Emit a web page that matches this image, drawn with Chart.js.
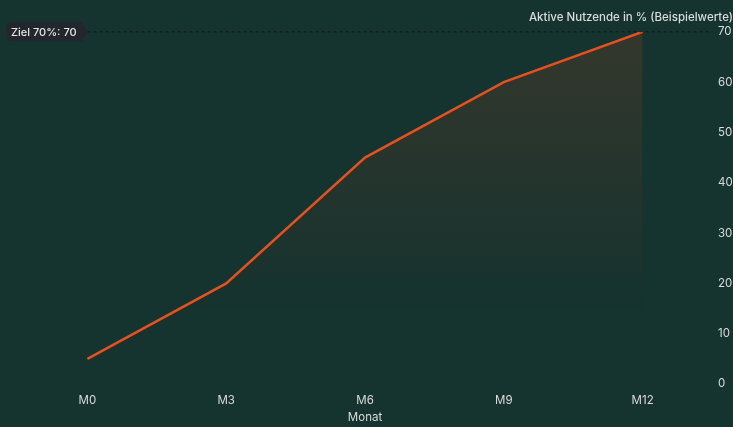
<!DOCTYPE html>
<html>
<head>
<meta charset="utf-8">
<script src="https://cdn.jsdelivr.net/npm/chart.js@4"></script>
<style>
  html, body { margin: 0; padding: 0; background: #15332f; }
  #wrap { width: 733px; height: 427px; }
</style>
</head>
<body>
<div id="wrap"><canvas id="chart"></canvas></div>
<script>
const months = ["M0", "M3", "M6", "M9", "M12"];
const activeUsers = [5, 20, 45, 60, 70];
const target = 70;
const targetLabel = "Ziel 70%: " + target;

const textColor = "#d9dcdb";
const lineColor = "#e8501e";

// dashed target line with a little tag on the left
const targetLine = {
    id: "targetLine",
    afterDatasetsDraw(chart) {
        const { ctx, chartArea, scales } = chart;
        const y = scales.y.getPixelForValue(target);
        ctx.save();
        ctx.font = "500 11px Inter";
        const w = ctx.measureText(targetLabel).width + 10;
        const h = 19, x0 = 6, r = 5, tip = 6;

        ctx.strokeStyle = "rgba(0,0,0,0.5)";
        ctx.lineWidth = 1;
        ctx.setLineDash([3, 3]);
        ctx.beginPath();
        ctx.moveTo(x0 + w + tip, y);
        ctx.lineTo(chartArea.right, y);
        ctx.stroke();
        ctx.setLineDash([]);

        ctx.fillStyle = "#23262c";
        ctx.beginPath();
        ctx.moveTo(x0 + r, y - h / 2);
        ctx.lineTo(x0 + w, y - h / 2);
        ctx.lineTo(x0 + w + tip, y);
        ctx.lineTo(x0 + w, y + h / 2);
        ctx.lineTo(x0 + r, y + h / 2);
        ctx.arcTo(x0, y + h / 2, x0, y + h / 2 - r, r);
        ctx.lineTo(x0, y - h / 2 + r);
        ctx.arcTo(x0, y - h / 2, x0 + r, y - h / 2, r);
        ctx.fill();

        ctx.fillStyle = "#e6e6e6";
        ctx.textBaseline = "middle";
        ctx.fillText(targetLabel, x0 + 5, y + 0.5);
        ctx.restore();
    }
};

const ctx = document.getElementById("chart").getContext("2d");
new Chart(ctx, {
    type: "line",
    data: {
        labels: months,
        datasets: [{
            data: activeUsers,
            borderColor: lineColor,
            borderWidth: 2.5,
            pointRadius: 0,
            tension: 0,
            fill: "origin",
            backgroundColor(c) {
                const area = c.chart.chartArea;
                if (!area) return "rgba(232,80,30,0.1)";
                const g = c.chart.ctx.createLinearGradient(0, area.top, 0, area.bottom);
                g.addColorStop(0, "rgba(232,80,30,0.15)");
                g.addColorStop(0.8, "rgba(232,80,30,0)");
                return g;
            }
        }]
    },
    options: {
        responsive: true,
        maintainAspectRatio: false,
        animation: false,
        layout: { padding: { left: 18, right: 0, top: 0, bottom: 3 } },
        font: { family: "Inter" },
        plugins: {
            legend: { display: false },
            tooltip: { enabled: false },
            title: {
                display: true,
                text: "Aktive Nutzende in % (Beispielwerte)",
                align: "end",
                color: textColor,
                font: { family: "Inter", size: 11.5, weight: "500" },
                padding: { top: 11, bottom: 7 }
            }
        },
        scales: {
            x: {
                offset: true,
                grid: { display: false, drawTicks: false },
                border: { display: false },
                ticks: { color: textColor, font: { family: "Inter", size: 11.5 }, padding: 10 },
                title: {
                    display: true,
                    text: "Monat",
                    color: textColor,
                    font: { family: "Inter", size: 11.5 },
                    padding: { top: 0, bottom: 0 }
                },
                afterFit(scale) { scale.height = 40; }
            },
            y: {
                position: "right",
                min: 0,
                max: 70,
                grid: { display: false, drawTicks: false },
                border: { display: false },
                ticks: { stepSize: 10, color: textColor, font: { family: "Inter", size: 11.5 }, padding: 6 },
                afterFit(scale) { scale.width = 21; }
            }
        }
    },
    plugins: [targetLine]
});
</script>
</body>
</html>
